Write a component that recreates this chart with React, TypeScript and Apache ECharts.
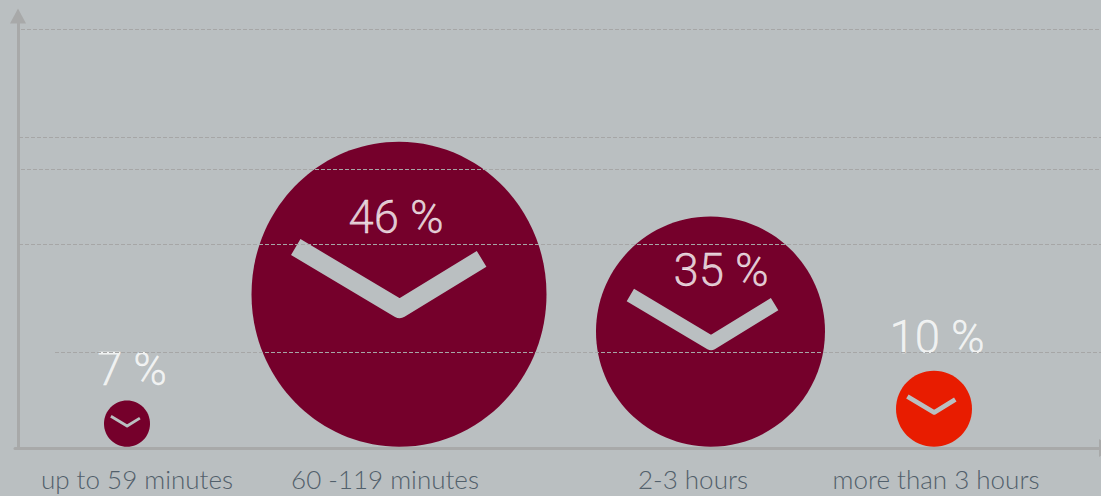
import React, { useEffect, useRef } from "react";
import * as echarts from "echarts";

const categories = ["up to 59 minutes", "60 -119 minutes", "2-3 hours", "more than 3 hours"];
const categoryTicks = [119, 367, 675, 918];
const percentages = [7, 46, 35, 10];
const bubbleX = [109, 381, 692.5, 916];
const bubbleWidths = [46, 295, 229, 76];
const bubbleHeights = [7.15, 47.3, 35.7, 11.8];
const bubbleBase = 0.2;
const colors = ["#75002b", "#75002b", "#75002b", "#e81c00"];
const labelX = [114, 378, 703, 919];
const labelY = [12.2, 35.7, 27.6, 17.2];
const gridLevels = [65, 48.2, 43.2, 31.6, 14.8];
const gridStarts = [3, 1, 3, 1, 37];

const BG = "#babfc1";
const AXIS = "#a8a9a9";

export default function App() {
  const ref = useRef<HTMLDivElement>(null);
  useEffect(() => {
    document.body.style.margin = "0";
    document.body.style.background = BG;
    const chart = echarts.init(ref.current!, null, { renderer: "svg" });
    chart.setOption({
      animation: false,
      backgroundColor: BG,
      grid: { left: 15, right: 0, top: 16, bottom: 48 },
      xAxis: {
        type: "value",
        min: -3,
        max: 1083,
        splitLine: { show: false },
        axisTick: { show: false },
        axisLine: {
          show: true,
          symbol: ["none", "triangle"],
          symbolSize: [18, 14],
          symbolOffset: [0, 5],
          lineStyle: { color: AXIS, width: 3 },
        },
        axisLabel: {
          customValues: categoryTicks,
          formatter: (v: number) => categories[categoryTicks.indexOf(v)] ?? "",
          color: "#52606b",
          fontFamily: "Lato",
          fontWeight: 300,
          fontSize: 26,
          margin: 18,
          hideOverlap: false,
        },
      },
      yAxis: {
        type: "value",
        min: 0,
        max: 67,
        splitLine: { show: false },
        axisTick: { show: false },
        axisLabel: { show: false },
        axisLine: {
          show: true,
          onZero: true,
          symbol: ["none", "triangle"],
          symbolSize: [16, 15],
          lineStyle: { color: AXIS, width: 3 },
        },
      },
      series: [
        {
          type: "custom",
          z: 2,
          silent: true,
          clip: false,
          data: bubbleX.map((x, i) => [x, bubbleHeights[i], bubbleWidths[i]]),
          renderItem: (params: any, api: any) => {
            const i = params.dataIndex;
            const h = api.value(1);
            const [cx, cy] = api.coord([api.value(0), bubbleBase + h / 2]);
            const [sx, sy] = api.size([api.value(2), h]);
            const rx = sx / 2;
            const ry = sy / 2;
            return {
              type: "group",
              children: [
                { type: "ellipse", shape: { cx, cy, rx, ry }, style: { fill: colors[i] } },
                {
                  type: "polyline",
                  shape: {
                    points: [
                      [cx - 0.7 * rx, cy - 0.32 * rx],
                      [cx + 0.005 * rx, cy + 0.1 * rx],
                      [cx + 0.56 * rx, cy - 0.24 * rx],
                    ],
                  },
                  style: { fill: "none", stroke: BG, lineWidth: 0.125 * rx, lineJoin: "round", lineCap: "butt" },
                },
              ],
            };
          },
        },
        {
          type: "line",
          z: 3,
          silent: true,
          data: [],
          markLine: {
            silent: true,
            symbol: "none",
            label: { show: false },
            lineStyle: { color: "#a6a6a6", type: [4, 2], width: 1 },
            data: gridLevels.map((y, i) => [{ coord: [gridStarts[i], y] }, { coord: [1083, y] }]),
          },
        },
        {
          type: "scatter",
          z: 4,
          silent: true,
          symbolSize: 0,
          data: labelX.map((x, i) => [x, labelY[i]]),
          label: {
            show: true,
            position: "inside",
            formatter: (p: any) => `${percentages[p.dataIndex]} %`,
            color: "#ffffff",
            textBorderColor: "#ffffff",
            textBorderWidth: 0.3,
            fontFamily: "Roboto",
            fontWeight: 300,
            fontSize: 45.5,
          },
        },
      ],
    });
    return () => chart.dispose();
  }, []);
  return <div ref={ref} style={{ width: 1101, height: 496 }} />;
}
